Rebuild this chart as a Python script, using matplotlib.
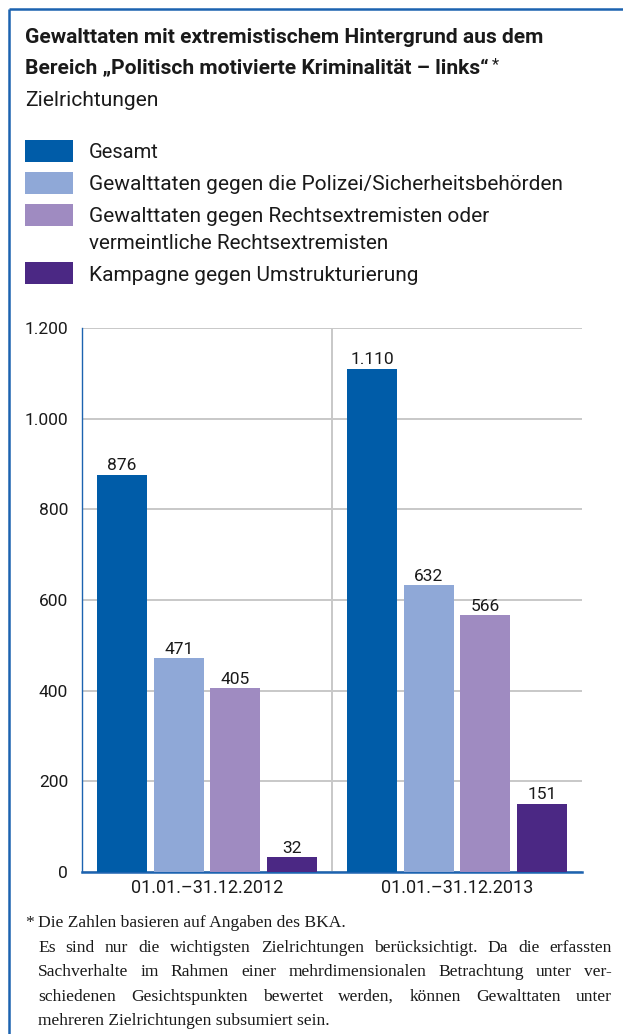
import matplotlib
matplotlib.use("Agg")
import matplotlib.pyplot as plt
from matplotlib.patches import Rectangle

# data
periods = ["01.01.–31.12.2012", "01.01.–31.12.2013"]
gesamt = [876, 1110]
polizei = [471, 632]
rechtsextremisten = [405, 566]
kampagne = [32, 151]
values = [gesamt, polizei, rechtsextremisten, kampagne]
colors = ["#005ca8", "#8fa8d7", "#9f8bc1", "#4b2884"]
yticks = [0, 200, 400, 600, 800, 1000, 1200]

W, H = 623, 1034
SANS = ["Roboto", "DejaVu Sans"]
SERIF = ["Liberation Serif", "DejaVu Serif"]
FRAME = "#1c63b0"
INK = "#1a1a1a"


def de(n):
    # german thousands separator
    return f"{n:,}".replace(",", ".")


fig = plt.figure(figsize=(W / 100, H / 100), dpi=100)

# overlay axes in pixel coordinates for the text blocks
over = fig.add_axes([0, 0, 1, 1])
over.set_xlim(0, W)
over.set_ylim(H, 0)
over.axis("off")
renderer = fig.canvas.get_renderer()


def fit(x, y, s, target, **kw):
    # draw text and scale the font so it is `target` px wide
    t = over.text(x, y, s, va="baseline", ha="left", **kw)
    w = t.get_window_extent(renderer).width
    t.set_fontsize(t.get_fontsize() * target / w)
    return t


# frame
over.plot([8.5, 8.5], [8.5, H], color=FRAME, lw=1.8, solid_capstyle="butt")
over.plot([8.5, W], [8.5, 8.5], color=FRAME, lw=1.8, solid_capstyle="butt")

# title
fit(25, 43, "Gewalttaten mit extremistischem Hintergrund aus dem", 520,
    family=SANS, fontweight="bold", color=INK)
t2 = fit(25, 74, "Bereich „Politisch motivierte Kriminalität – links“", 462,
         family=SANS, fontweight="bold", color=INK)
x_end = over.transData.inverted().transform(
    (t2.get_window_extent(renderer).x1, 0))[0]
over.text(x_end + 3, 69, "*", family=SANS, fontsize=12, color=INK, va="baseline")
fit(25, 106, "Zielrichtungen", 133, family=SANS, color=INK)

# legend
patch_tops = [140, 172, 204, 262]
text_lines = [
    [(158, "Gesamt", 70)],
    [(190, "Gewalttaten gegen die Polizei/Sicherheitsbehörden", 473)],
    [(222, "Gewalttaten gegen Rechtsextremisten oder", 401),
     (249, "vermeintliche Rechtsextremisten", 301)],
    [(281, "Kampagne gegen Umstrukturierung", 330)],
]
for top, col, lines in zip(patch_tops, colors, text_lines):
    over.add_patch(Rectangle((25, top), 48, 22, color=col, lw=0))
    for y, s, w in lines:
        fit(89, y, s, w, family=SANS, color=INK)

# bar chart
ax = fig.add_axes([82 / W, (H - 872) / H, 500 / W, 544 / H])
centers = [0.5, 1.5]
offsets = [-0.34, -0.113, 0.113, 0.34]
for vals, off, col in zip(values, offsets, colors):
    xs = [c + off for c in centers]
    ax.bar(xs, vals, width=0.2, color=col, zorder=3)
    for x, v in zip(xs, vals):
        ax.text(x, v + 4, de(v), ha="center", va="bottom", fontsize=12.5,
                family=SANS, color=INK, zorder=4)

ax.set_xlim(0, 2)
ax.set_ylim(0, 1200)
ax.set_yticks(yticks)
ax.set_yticklabels([de(v) for v in yticks], family=SANS, fontsize=12.5)
ax.set_xticks(centers)
ax.set_xticklabels(periods, family=SANS, fontsize=13)
ax.tick_params(length=0, pad=10, colors=INK)
ax.tick_params(axis="x", pad=5)
ax.grid(axis="y", color="#c8c8c8", lw=1.4, zorder=0)
ax.axvline(1.0, color="#c8c8c8", lw=1.4, zorder=0)
for s in ["top", "right"]:
    ax.spines[s].set_visible(False)
ax.spines["left"].set_color(FRAME)
ax.spines["left"].set_linewidth(1.0)
ax.spines["bottom"].set_color(FRAME)
ax.spines["bottom"].set_linewidth(1.8)
ax.set_facecolor("none")

# footnote, justified like the print version
t = fit(38, 927, "Die Zahlen basieren auf Angaben des BKA.", 307,
        family=SERIF, color=INK)
foot_size = t.get_fontsize()
over.text(25, 927, "*", family=SERIF, fontsize=foot_size, color=INK, va="baseline")
justified = [
    (952, "Es sind nur die wichtigsten Zielrichtungen berücksichtigt. Da die erfassten"),
    (976, "Sachverhalte im Rahmen einer mehrdimensionalen Betrachtung unter ver-"),
    (1001, "schiedenen Gesichtspunkten bewertet werden, können Gewalttaten unter"),
]
for y, line in justified:
    words = line.split()
    texts = [over.text(0, y, w, family=SERIF, fontsize=foot_size, color=INK,
                       va="baseline") for w in words]
    widths = [tx.get_window_extent(renderer).width for tx in texts]
    gap = (612 - 38 - sum(widths)) / (len(words) - 1)
    x = 38
    for tx, w in zip(texts, widths):
        tx.set_x(x)
        x += w + gap
over.text(38, 1025, "mehreren Zielrichtungen subsumiert sein.", family=SERIF,
          fontsize=foot_size, color=INK, va="baseline")

fig.savefig("out.png", dpi=100)
